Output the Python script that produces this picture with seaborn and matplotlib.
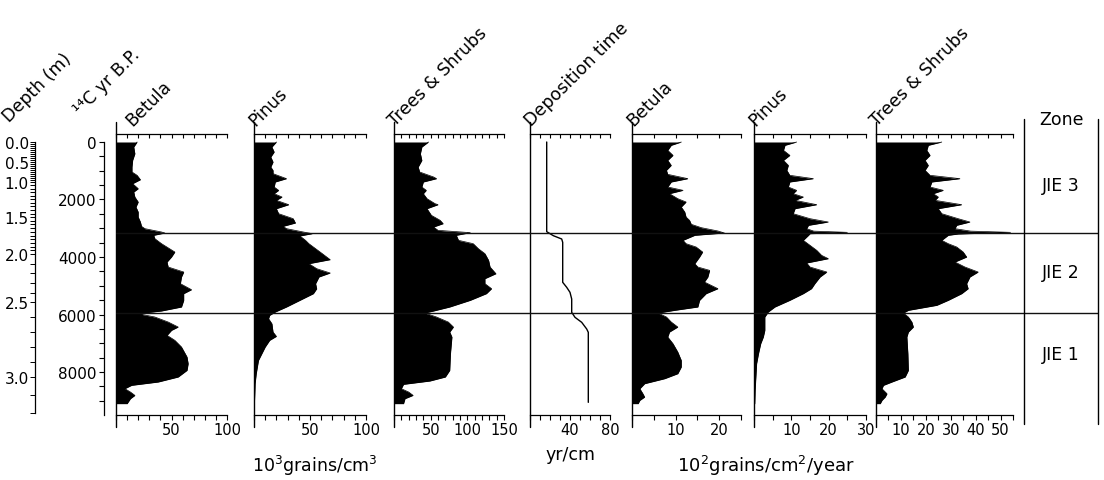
import numpy as np
import pandas as pd
import seaborn as sns
import matplotlib.pyplot as plt
from matplotlib.ticker import MultipleLocator, FixedLocator, FuncFormatter, NullFormatter

# --- data (age in 14C yr B.P., values per panel) ---
betula_c_age = [0, 174, 406, 638, 870, 1043, 1159, 1310, 1449, 1623, 1739, 1913, 2087, 2261, 2435,
                2609, 2783, 2933, 3014, 3130, 3165, 3246, 3362, 3536, 3826, 4000, 4174, 4348, 4522,
                4695, 4927, 5136, 5275, 5507, 5739, 5878, 5948, 5994, 6087, 6261, 6435, 6551, 6725,
                6898, 7130, 7478, 7710, 7942, 8174, 8348, 8464, 8580, 8696, 8812, 8928, 9101]
betula_c = [19, 16, 17, 15, 14.4, 14.4, 19, 22, 15, 20, 16, 17, 20, 18, 20,
            20, 22, 23, 26, 41, 44, 34, 35, 41, 53, 50, 46, 47, 61,
            59, 58, 68, 61, 61, 59, 41, 25, 23, 35, 47, 56, 50, 46,
            53, 59, 64, 65, 64, 56, 38, 14, 8, 13, 17, 13, 10]

pinus_c_age = [0, 174, 348, 522, 696, 870, 985, 1101, 1275, 1391, 1565, 1681, 1797, 1913, 2029,
               2180, 2319, 2493, 2667, 2817, 2933, 3014, 3130, 3188, 3269, 3420, 3536, 3710, 3884,
               4092, 4232, 4406, 4556, 4695, 4927, 5101, 5275, 5507, 5739, 5913, 6029, 6145, 6319,
               6609, 6759, 6898, 7130, 7362, 7594, 7826, 8058, 8406, 8870, 9101]
pinus_c = [20, 16, 18, 15, 17, 15, 17, 17, 29, 19, 18, 22, 18, 25, 20,
           31, 20, 22, 35, 37, 26, 29, 44, 52, 41, 46, 49, 55, 61,
           68, 49, 56, 68, 58, 55, 56, 53, 41, 29, 19, 14, 13, 16,
           17, 20, 14, 10, 7, 4, 3, 2, 1, 0.6, 0.3]

trees_c_age = [0, 174, 406, 638, 870, 1043, 1217, 1275, 1391, 1565, 1681, 1797, 1971, 2145, 2180,
               2319, 2551, 2725, 2840, 2956, 3072, 3153, 3246, 3420, 3536, 3710, 3884, 4116, 4348,
               4580, 4753, 4927, 5101, 5275, 5507, 5739, 5878, 5948, 6087, 6261, 6435, 6609, 6782,
               7362, 7942, 8174, 8313, 8429, 8580, 8696, 8812, 8928, 9101]
trees_c = [47, 38, 36, 38, 33, 35, 54, 58, 40, 38, 44, 40, 45, 56, 60,
           45, 51, 63, 67, 54, 60, 104, 85, 88, 108, 115, 124, 129, 131,
           139, 124, 124, 133, 126, 104, 76, 54, 42, 58, 74, 81, 76, 79,
           77, 76, 70, 49, 13, 10, 20, 26, 15, 13]

dep_age = [0, 3119, 3258, 3374, 3490, 4880, 5055, 5229, 5461, 5924, 6098, 6272, 6504, 6620, 9055]
dep_time = [16.7, 16.7, 23.3, 31.7, 32.7, 32.7, 36.7, 40, 41.7, 41.7, 45, 51.7, 56.7, 58.3, 58.3]

betula_i_age = [0, 116, 290, 464, 638, 812, 985, 1125, 1275, 1391, 1565, 1681, 1797, 1971, 2087,
                2261, 2435, 2609, 2725, 2863, 2980, 3095, 3165, 3246, 3420, 3536, 3652, 3826, 4000,
                4232, 4348, 4464, 4695, 4869, 5101, 5275, 5507, 5739, 5855, 5948, 6087, 6261, 6435,
                6609, 6782, 7014, 7304, 7594, 7826, 8058, 8232, 8406, 8580, 8754, 8870, 8986, 9101]
betula_i = [11.3, 9, 8.2, 9.4, 8.2, 9, 7.9, 8.2, 12.8, 9, 8.2, 11.7, 8.6, 10.5, 12.4,
            11.3, 12.1, 12.4, 13.2, 13.6, 15.9, 19.7, 21.2, 14.4, 11.7, 12.4, 14.7, 16.2, 15.5,
            14.4, 15.1, 17.8, 17.4, 16.6, 19.7, 17, 15.5, 15.1, 9.8, 6, 7.9, 9, 10.5,
            8.6, 8.2, 9.4, 10.5, 11.3, 11.3, 10.5, 7.5, 2.9, 1.8, 2.5, 2.9, 1.8, 1.4]

pinus_i_age = [0, 116, 290, 464, 638, 812, 985, 1159, 1275, 1391, 1565, 1681, 1797, 1913, 2029,
               2180, 2319, 2493, 2667, 2783, 2898, 3014, 3100, 3142, 3190, 3246, 3420, 3594, 3768,
               3942, 4058, 4208, 4348, 4522, 4695, 4927, 5101, 5275, 5507, 5739, 5913, 6087, 6319,
               6551, 6782, 7014, 7362, 7710, 8174, 8638, 9101]
pinus_i = [11.4, 8.3, 7.9, 9.6, 7.9, 9.2, 8.8, 9.6, 15.9, 9.6, 9.2, 11.4, 10.5, 13.2, 11,
           16.8, 11, 10.5, 15, 19.9, 14.6, 14.1, 16, 25, 15, 14.6, 13.2, 15, 16.8,
           18.1, 19.9, 14.1, 15, 19.5, 17.7, 16.3, 15.4, 13.2, 9.6, 5.6, 3.8, 2.9, 2.9,
           2.9, 2.5, 1.8, 1.2, 0.7, 0.5, 0.3, 0.2]

trees_i_age = [0, 116, 290, 464, 638, 812, 985, 1159, 1275, 1391, 1565, 1681, 1797, 1913, 2029,
               2180, 2319, 2493, 2667, 2783, 2898, 3014, 3100, 3142, 3200, 3246, 3420, 3536, 3652,
               3826, 4000, 4174, 4348, 4522, 4695, 4927, 5101, 5275, 5507, 5681, 5855, 5948, 6087,
               6261, 6435, 6609, 6782, 7362, 7942, 8174, 8348, 8464, 8580, 8754, 8870, 8986, 9101]
trees_i = [26.4, 21, 20.4, 21.7, 19.7, 21, 19.7, 21.7, 33.7, 22.4, 21.7, 27, 23, 25, 23.7,
           34.4, 25, 26.4, 33, 37.7, 32.4, 31.7, 38, 54, 33, 29, 26.4, 29, 32.4,
           35, 36.4, 31.7, 35.7, 41, 37.7, 36.4, 37, 34.4, 29, 24.4, 13, 11, 13,
           14.4, 15, 13, 12.4, 12.8, 13, 11.7, 6.4, 3, 2.4, 4.4, 3.7, 2.4, 1.7]

titles = ["Betula", "Pinus", "Trees & Shrubs", "Deposition time", "Betula", "Pinus", "Trees & Shrubs"]
x_max = [100, 100, 150, 80, 25, 30, 55]
x_step = [10, 10, 10, 10, 5, 5, 5]
x_labels = [[50, 100], [50, 100], [50, 100, 150], [40, 80], [10, 20], [10, 20, 30], [10, 20, 30, 40, 50]]

zone_bounds = [3165, 5948]
zone_names = ["JIE 3", "JIE 2", "JIE 1"]
zone_label_age = [1500, 4520, 7380]

depth_marks = [0.0, 0.5, 1.0, 1.5, 2.0, 2.5, 3.0, 3.2]
depth_mark_age = [0, 706, 1380, 2610, 3896, 5576, 8185, 9420]

series = [
    (betula_c_age, betula_c), (pinus_c_age, pinus_c), (trees_c_age, trees_c),
    (dep_age, dep_time),
    (betula_i_age, betula_i), (pinus_i_age, pinus_i), (trees_i_age, trees_i),
]

# --- style ---
sns.set_theme(style="ticks")
plt.rcParams["font.family"] = ["DejaVu Sans"]
plt.rcParams["axes.edgecolor"] = "black"
plt.rcParams["xtick.color"] = "black"
plt.rcParams["ytick.color"] = "black"
plt.rcParams["text.color"] = "black"
plt.rcParams["axes.linewidth"] = 0.9

W, H = 1104, 481
fig = plt.figure(figsize=(W / 100, H / 100), dpi=100)
fig.patch.set_facecolor("white")

TOP, BOT = 135, 416
AGE_TOP, AGE_BOT = -278, 9495
panel_x = [(116, 227), (254, 366), (394, 504), (530, 610), (632, 741), (754, 866), (876, 1013)]
TITLE_SIZE = 12.5
TITLE_ROT = 45


def px_axes(x0, x1, y0, y1):
    return fig.add_axes([x0 / W, 1 - y1 / H, (x1 - x0) / W, (y1 - y0) / H])


def frac(y):
    return (BOT - y) / (BOT - TOP)


def only(labels):
    return FuncFormatter(lambda v, p: f"{v:g}" if any(abs(v - l) < 1e-6 for l in labels) else "")


for i, ((x0, x1), (age, val)) in enumerate(zip(panel_x, series)):
    ax = px_axes(x0, x1, TOP, BOT)
    ax.set_facecolor("none")
    df = pd.DataFrame({"age": age, "val": val})
    if i == 3:
        sns.lineplot(data=df, x="val", y="age", orient="y", sort=False, estimator=None,
                     color="black", lw=1.0, ax=ax)
    else:
        ax.fill_betweenx(df["age"], 0, df["val"], color="black", lw=0)
        sns.lineplot(data=df, x="val", y="age", orient="y", sort=False, estimator=None,
                     color="black", lw=0.5, ax=ax)
    ax.set_xlim(0, x_max[i])
    ax.set_ylim(AGE_BOT, AGE_TOP)
    ax.set_xlabel("")
    ax.set_ylabel("")
    ax.set_yticks([])
    for s in ["left", "right", "top"]:
        ax.spines[s].set_visible(False)
    ax.axvline(0, ymin=frac(428), ymax=frac(123), color="black", lw=1.0, clip_on=False)
    ax.xaxis.set_major_locator(MultipleLocator(x_step[i]))
    ax.xaxis.set_major_formatter(only(x_labels[i]))
    ax.tick_params(axis="x", direction="out", length=3.8, width=0.8, pad=1.5, labelsize=10.5)
    sec = ax.secondary_xaxis("top")
    sec.xaxis.set_major_locator(MultipleLocator(x_step[i]))
    sec.xaxis.set_major_formatter(NullFormatter())
    sec.tick_params(direction="in", length=2.6, width=0.8)
    sec.spines["top"].set_linewidth(0.9)

    lx = 132 if i == 0 else x0 + 1
    fig.text(lx / W, 1 - 127 / H, titles[i], rotation=TITLE_ROT, rotation_mode="anchor",
             ha="left", va="baseline", fontsize=TITLE_SIZE)

# zone boundary lines across all panels
ov = px_axes(116, 1098, TOP, BOT)
ov.set_ylim(AGE_BOT, AGE_TOP)
ov.axis("off")
for b in zone_bounds:
    ov.axhline(b, color="#111111", lw=1.0)

# zone column
zc = px_axes(1024, 1098, TOP, BOT)
zc.set_ylim(AGE_BOT, AGE_TOP)
zc.set_xlim(0, 1)
zc.axis("off")
for xv in [0, 1]:
    zc.axvline(xv, ymin=frac(425), ymax=frac(120), color="black", lw=1.0, clip_on=False)
for name, a in zip(zone_names, zone_label_age):
    zc.text(0.5, a, name, ha="center", va="center", fontsize=12.5)
fig.text(1062 / W, 1 - 120 / H, "Zone", ha="center", va="center", fontsize=12.5)

# age scale
aa = px_axes(104, 105, TOP, BOT)
aa.set_ylim(AGE_BOT, AGE_TOP)
aa.set_facecolor("none")
for s in ["right", "top", "bottom"]:
    aa.spines[s].set_visible(False)
aa.spines["left"].set_bounds(0, 9500)
aa.set_xticks([])
aa.yaxis.set_major_locator(MultipleLocator(500))
aa.yaxis.set_major_formatter(FuncFormatter(lambda v, p: f"{v:.0f}" if v % 2000 == 0 and v <= 8000 else ""))
aa.tick_params(axis="y", direction="out", length=3.5, width=0.8, pad=2, labelsize=11)

# depth scale (non-linear against age)
da = px_axes(35, 36, TOP, BOT)
da.set_ylim(AGE_BOT, AGE_TOP)
da.set_facecolor("none")
for s in ["right", "top", "bottom"]:
    da.spines[s].set_visible(False)
da.spines["left"].set_bounds(depth_mark_age[0], depth_mark_age[-1])
da.set_xticks([])
da.set_yticks(depth_mark_age[:-1])
da.set_yticklabels([f"{d:.1f}" for d in depth_marks[:-1]])
minor_depths = np.concatenate([np.arange(0, 2.0, 0.05), np.arange(2.0, 3.21, 0.1)])
da.yaxis.set_minor_locator(FixedLocator(np.interp(minor_depths, depth_marks, depth_mark_age)))
da.tick_params(axis="y", which="both", direction="out", length=3.5, width=0.7, pad=1, labelsize=11)

# axis titles
fig.text(9 / W, 1 - 123 / H, "Depth (m)", rotation=TITLE_ROT, rotation_mode="anchor",
         ha="left", va="baseline", fontsize=TITLE_SIZE)
fig.text(80 / W, 1 - 116 / H, "¹⁴C yr B.P.", rotation=TITLE_ROT, rotation_mode="anchor",
         ha="left", va="baseline", fontsize=TITLE_SIZE)

# unit labels
fig.text(315 / W, 1 - 466 / H, "10$^{3}$grains/cm$^{3}$", ha="center", va="center", fontsize=12.5)
fig.text(570 / W, 1 - 455 / H, "yr/cm", ha="center", va="center", fontsize=12.5)
fig.text(766 / W, 1 - 466 / H, "10$^{2}$grains/cm$^{2}$/year", ha="center", va="center", fontsize=13)

fig.savefig("out.png", dpi=100)
